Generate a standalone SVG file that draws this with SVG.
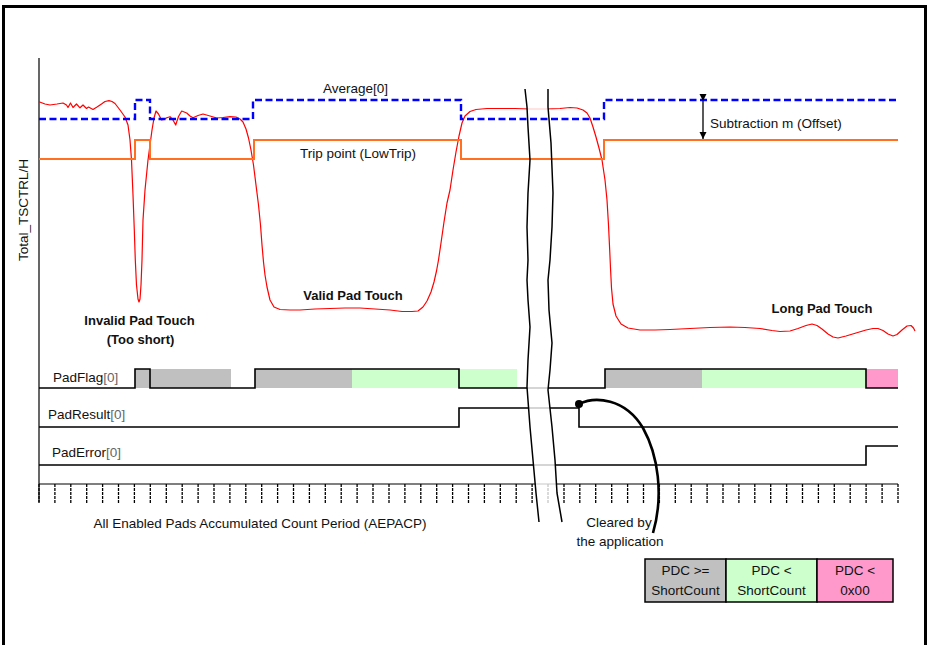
<svg xmlns="http://www.w3.org/2000/svg" width="928" height="645" viewBox="0 0 928 645">
<defs>
<style>
text{font-family:"Liberation Sans",Arial,sans-serif;font-size:13.5px;fill:#111}
.b{font-weight:bold;font-size:13px}
.sig{fill:none;stroke:#000;stroke-width:1.6}
.br{fill:none;stroke:#000;stroke-width:1.5;stroke-linejoin:round}
.dim{fill:#666}
.lg{stroke:#000;stroke-width:1.5}
</style>
<marker id="ah" viewBox="0 0 10 10" refX="10" refY="5" markerWidth="7" markerHeight="9" orient="auto" markerUnits="userSpaceOnUse"><path d="M0,0 L10,5 L0,10 Z" fill="#000"/></marker>
</defs>
<rect width="928" height="645" fill="#fff"/>
<path d="M3.5,650 V6.5 H925.5 V650" fill="none" stroke="#000" stroke-width="3"/>

<g id="axes">
<line x1="39" y1="58" x2="39" y2="502" stroke="#000" stroke-width="1.2"/>
<line x1="39" y1="484" x2="898" y2="484" stroke="#000" stroke-width="1.2"/>
<path stroke="#000" stroke-width="1.3" stroke-dasharray="3,1" d="M39,484V503M54.9,484V503M70.8,484V503M86.7,484V503M102.6,484V503M118.5,484V503M134.4,484V503M150.3,484V503M166.3,484V503M182.2,484V503M198.1,484V503M214,484V503M229.9,484V503M245.8,484V503M261.7,484V503M277.6,484V503M293.5,484V503M309.4,484V503M325.3,484V503M341.2,484V503M357.1,484V503M373,484V503M389,484V503M404.9,484V503M420.8,484V503M436.7,484V503M452.6,484V503M468.5,484V503M484.4,484V503M500.3,484V503M516.2,484V503M532.1,484V503M548,484V503M564,484V503M579.8,484V503M595.7,484V503M611.7,484V503M627.6,484V503M643.5,484V503M659.4,484V503M675.3,484V503M691.2,484V503M707.1,484V503M723,484V503M738.9,484V503M754.8,484V503M770.7,484V503M786.6,484V503M802.5,484V503M818.4,484V503M834.3,484V503M850.2,484V503M866.1,484V503M882.1,484V503M898,484V503"/>
<text transform="translate(28,210) rotate(-90)" text-anchor="middle">Total_TSCTRL/H</text>
<text x="260" y="528" text-anchor="middle">All Enabled Pads Accumulated Count Period (AEPACP)</text>
</g>

<g id="padflag-fill">
<rect x="135" y="369" width="96" height="19" fill="#c0c0c0"/>
<rect x="255" y="369" width="97" height="19" fill="#c0c0c0"/>
<rect x="352" y="369" width="165" height="19" fill="#ccffcc"/>
<rect x="605" y="369" width="97" height="19" fill="#c0c0c0"/>
<rect x="702" y="369" width="164" height="19" fill="#ccffcc"/>
<rect x="866" y="369" width="32" height="19" fill="#ff99cc"/>
</g>

<g id="total-signal">
<polyline fill="none" stroke="#ff0000" stroke-width="1.2" stroke-linejoin="round" points="39,101.7 45,104 50,105 57,104 63,103 66.5,105 68,107.5 70.5,103 73,107.5 76.5,104 80,107.8 83,105 86.5,108.5 88.5,107 93,109.5 97,107 101.5,104 105,101.5 109,100.7 112,101.5 115,103.5 120,110 125,117 128,125 130,140 131.5,160 133,195 134.3,230 135.3,260 136.5,285 138,299 139,302 140,299 141,285 142,260 143,220 145,190 148,160 150,145 152,130 154,118 156,111 158.5,114 161.5,120 164,119.5 166.7,117.7 170,116.7 173,120 175.7,125 177,121 178.5,116.5 181.7,111 186.7,113 190,116 193,117.7 198,115.5 203,114 210,116 216.7,118 223,117.5 230,116.7 236,117 240,119 243,122 246,129 248.5,138 251,150 253.5,165 256,185 258.5,205 260.5,225 262,245 263.5,262 265,275 267,287 270,300 274,307 280,309.5 290,310 300,310 315,309 330,308.5 345,308 360,308 375,309 390,310 402,311.5 412,311.5 418,311 423,307 427,301 431,292 434,282 436.5,271 438.5,260 441,243 444,222 447,203 450,190 453,170 456,152 459,136 462,123 465,116 470,111.5 476,109.5 487,108.5 500,108.5 515,108.5 530,109 545,109 560,108.5 570,107.5 577,108 583,110 587,113 590,118 593,127 596,137 599,148 602,160 605,180 607,200 608.5,225 609.7,250 610.5,268 611.5,288 613,304 616,316 621,324 628,328 640,330 655,330 670,329.5 690,328.5 710,327.5 730,327 745,327.5 760,328.5 772,330.5 780,331.5 790,331 798,328.5 806,325.5 812,324 817,325.5 822,329 828,334 833,337 838,338 846,336 856,333 866,330 873,328.5 878,328.5 883,330.5 888,334 893,336 897,334.5 902,330 907,326 911,325.5 913.5,328 915,331"/>
</g>

<g id="padflag">
<path class="sig" d="M39,388 H135 V369 H150 V388 H255 V369 H459 V388 H605 V369 H866 V388 H898"/>
<text x="53" y="382">PadFlag<tspan class="dim">[0]</tspan></text>
</g>
<g id="padresult">
<path class="sig" d="M39,427 H459 V408 H579 V427 H898"/>
<text x="48" y="419">PadResult<tspan class="dim">[0]</tspan></text>
</g>
<g id="paderror">
<path class="sig" d="M39,465 H866 V446 H898"/>
<text x="52" y="457">PadError<tspan class="dim">[0]</tspan></text>
</g>

<g id="break">
<path fill="#fff" fill-opacity="0.78" d="M525,89 L527,107 528,127 530,160 528,193 527,227 528,260 527,280 528,300 530,327 528,360 527,387 530,427 533,460 536,493 539,522 L562,522 557,493 555,460 552,427 548,390 550,370 552,343 549,310 548,280 550,260 552,227 553,193 551,143 548,107 548,89 Z"/>
</g>

<g id="average">
<path d="M39,119 H135 V100 H150 V119 H253 V100 H461 V119 H604 V100 H898" fill="none" stroke="#0000ff" stroke-width="2.4" stroke-dasharray="7,3.5"/>
<text x="323" y="93">Average[0]</text>
</g>
<g id="trip">
<path d="M39,159 H135 V140 H150 V159 H254 V140 H461 V159 H604 V140 H898" fill="none" stroke="#ff7020" stroke-width="2"/>
<text x="300" y="158">Trip point (LowTrip)</text>
</g>

<g id="break-lines">
<polyline class="br" points="525,89 527,107 528,127 530,160 528,193 527,227 528,260 527,280 528,300 530,327 528,360 527,387 530,427 533,460 536,493 539,522"/>
<polyline class="br" points="548,89 548,107 551,143 553,193 552,227 550,260 548,280 549,310 552,343 550,370 548,390 552,427 555,460 557,493 562,522"/>
</g>

<g id="connectors">
<line x1="703" y1="101" x2="703" y2="139" stroke="#000" stroke-width="1.3" marker-start="url(#ah)" marker-end="url(#ah)"/>
<path d="M579,404 C595,396 625,398 643,428 C658,455 664,495 653,533" fill="none" stroke="#000" stroke-width="2.6"/>
<circle cx="579" cy="404" r="4" fill="#000"/>
</g>

<g id="labels">
<text x="710" y="128">Subtraction m (Offset)</text>
<text class="b" x="139.5" y="325" text-anchor="middle">Invalid Pad Touch</text>
<text class="b" x="140.5" y="344" text-anchor="middle">(Too short)</text>
<text class="b" x="353" y="300" text-anchor="middle">Valid Pad Touch</text>
<text class="b" x="822" y="313" text-anchor="middle">Long Pad Touch</text>
<text x="619" y="527" text-anchor="middle">Cleared by</text>
<text x="620" y="546" text-anchor="middle">the application</text>
</g>

<g id="legend">
<rect class="lg" x="645" y="559" width="81" height="43" fill="#c0c0c0"/>
<rect class="lg" x="726" y="559" width="91" height="43" fill="#ccffcc"/>
<rect class="lg" x="817" y="559" width="76" height="43" fill="#ff99cc"/>
<text x="685.5" y="575" text-anchor="middle">PDC &gt;=</text>
<text x="685.5" y="595" text-anchor="middle">ShortCount</text>
<text x="771.5" y="575" text-anchor="middle">PDC &lt;</text>
<text x="771.5" y="595" text-anchor="middle">ShortCount</text>
<text x="855" y="575" text-anchor="middle">PDC &lt;</text>
<text x="855" y="595" text-anchor="middle">0x00</text>
</g>
</svg>
